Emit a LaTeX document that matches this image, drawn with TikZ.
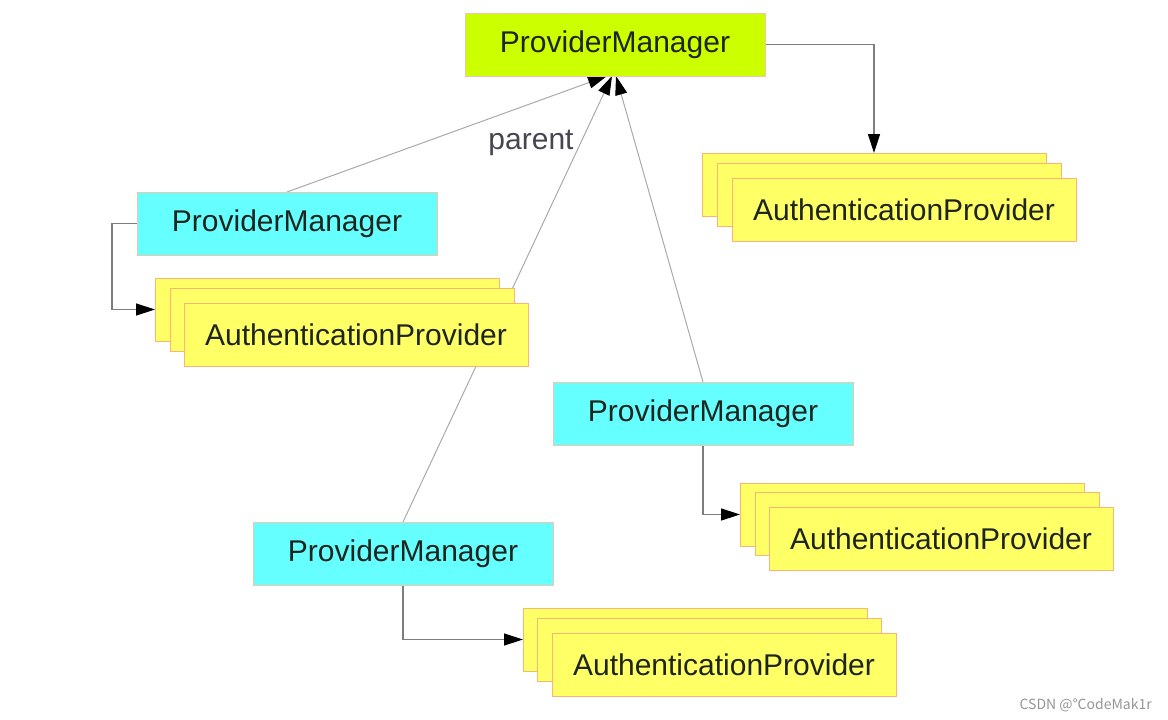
\documentclass[tikz,border=0pt]{standalone}
\usepackage{fontspec}
\setmainfont{Liberation Sans}
\newfontfamily\cjkfont{Noto Sans CJK SC}
\usetikzlibrary{arrows.meta,backgrounds}
\definecolor{limeF}{RGB}{204,255,0}
\definecolor{cyanF}{RGB}{102,255,255}
\definecolor{yellowF}{RGB}{255,255,102}
\definecolor{peachB}{RGB}{245,195,165}
\definecolor{orangeB}{RGB}{250,180,115}
\definecolor{txtC}{RGB}{30,36,30}
\definecolor{lineA}{RGB}{125,125,125}
\definecolor{lineB}{RGB}{170,170,170}
\definecolor{labelC}{RGB}{70,70,80}
\definecolor{markC}{RGB}{150,150,150}
\begin{document}
\begin{tikzpicture}[x=1pt,y=-1pt,
  box/.style={draw, line width=1pt, minimum width=300pt, minimum height=63pt,
    inner sep=0pt, outer sep=0pt, anchor=north west,
    font=\fontsize{30}{36}\selectfont, text=txtC},
  pmgreen/.style={box, fill=limeF, draw=peachB},
  pmcyan/.style={box, fill=cyanF, draw=peachB},
  apbox/.style={box, fill=yellowF, draw=orangeB, minimum width=344pt},
  ortho/.style={draw=lineA, line width=1.4pt,
    -{Triangle[length=19pt,width=12pt,color=black,fill=black]}},
  parentline/.style={draw=lineB, line width=1pt,
    -{Triangle[length=19pt,width=12pt,color=black,fill=black]}}
]
\useasboundingbox (0,0) rectangle (1168,720);

% provider managers
\node[pmgreen] (topPM) at (465,13) {ProviderManager};
\node[pmcyan] (lPM) at (137,192) {ProviderManager};
\node[pmcyan] (mPM) at (553,382) {ProviderManager};
\node[pmcyan] (bPM) at (253,522) {ProviderManager};

% top-right stack
\node[apbox] (trA) at (702,153) {};
\node[apbox] (trB) at (717,163) {};
\node[apbox] (trC) at (732,178) {AuthenticationProvider};
% left stack
\node[apbox] (lA) at (155,278) {};
\node[apbox] (lB) at (170,288) {};
\node[apbox] (lC) at (184,303) {AuthenticationProvider};
% middle stack
\node[apbox] (mA) at (740,483) {};
\node[apbox] (mB) at (755,492) {};
\node[apbox] (mC) at (769,507) {AuthenticationProvider};
% bottom stack
\node[apbox] (bA) at (523,608) {};
\node[apbox] (bB) at (537,618) {};
\node[apbox] (bC) at (552,633) {AuthenticationProvider};

\node[font=\fontsize{30}{36}\selectfont, text=labelC, inner sep=0pt] (par) at (531,143) {parent};

\node[font=\cjkfont\fontsize{14}{16}\selectfont, text=markC, anchor=east, inner sep=0pt] (mark) at (1152,705) {CSDN @℃odeMak1r};

\coordinate (t1) at (607,76);
\coordinate (t2) at (612,76);
\coordinate (t3) at (616,76);

\begin{pgfonlayer}{background}
  \fill[white] (0,0) rectangle (1168,720);
  \draw[parentline] (lPM.north) -- (t1);
  \draw[parentline] (bPM.north) -- (t2);
  \draw[parentline] (mPM.north) -- (t3);
  \draw[ortho] (topPM.east) -| (trA.north);
  \draw[ortho] (lPM.west) -- ++(-25,0) |- (lA.west);
  \draw[ortho] (mPM.south) |- (mA.west);
  \draw[ortho] (bPM.south) |- (bA.west);
\end{pgfonlayer}
\end{tikzpicture}
\end{document}
